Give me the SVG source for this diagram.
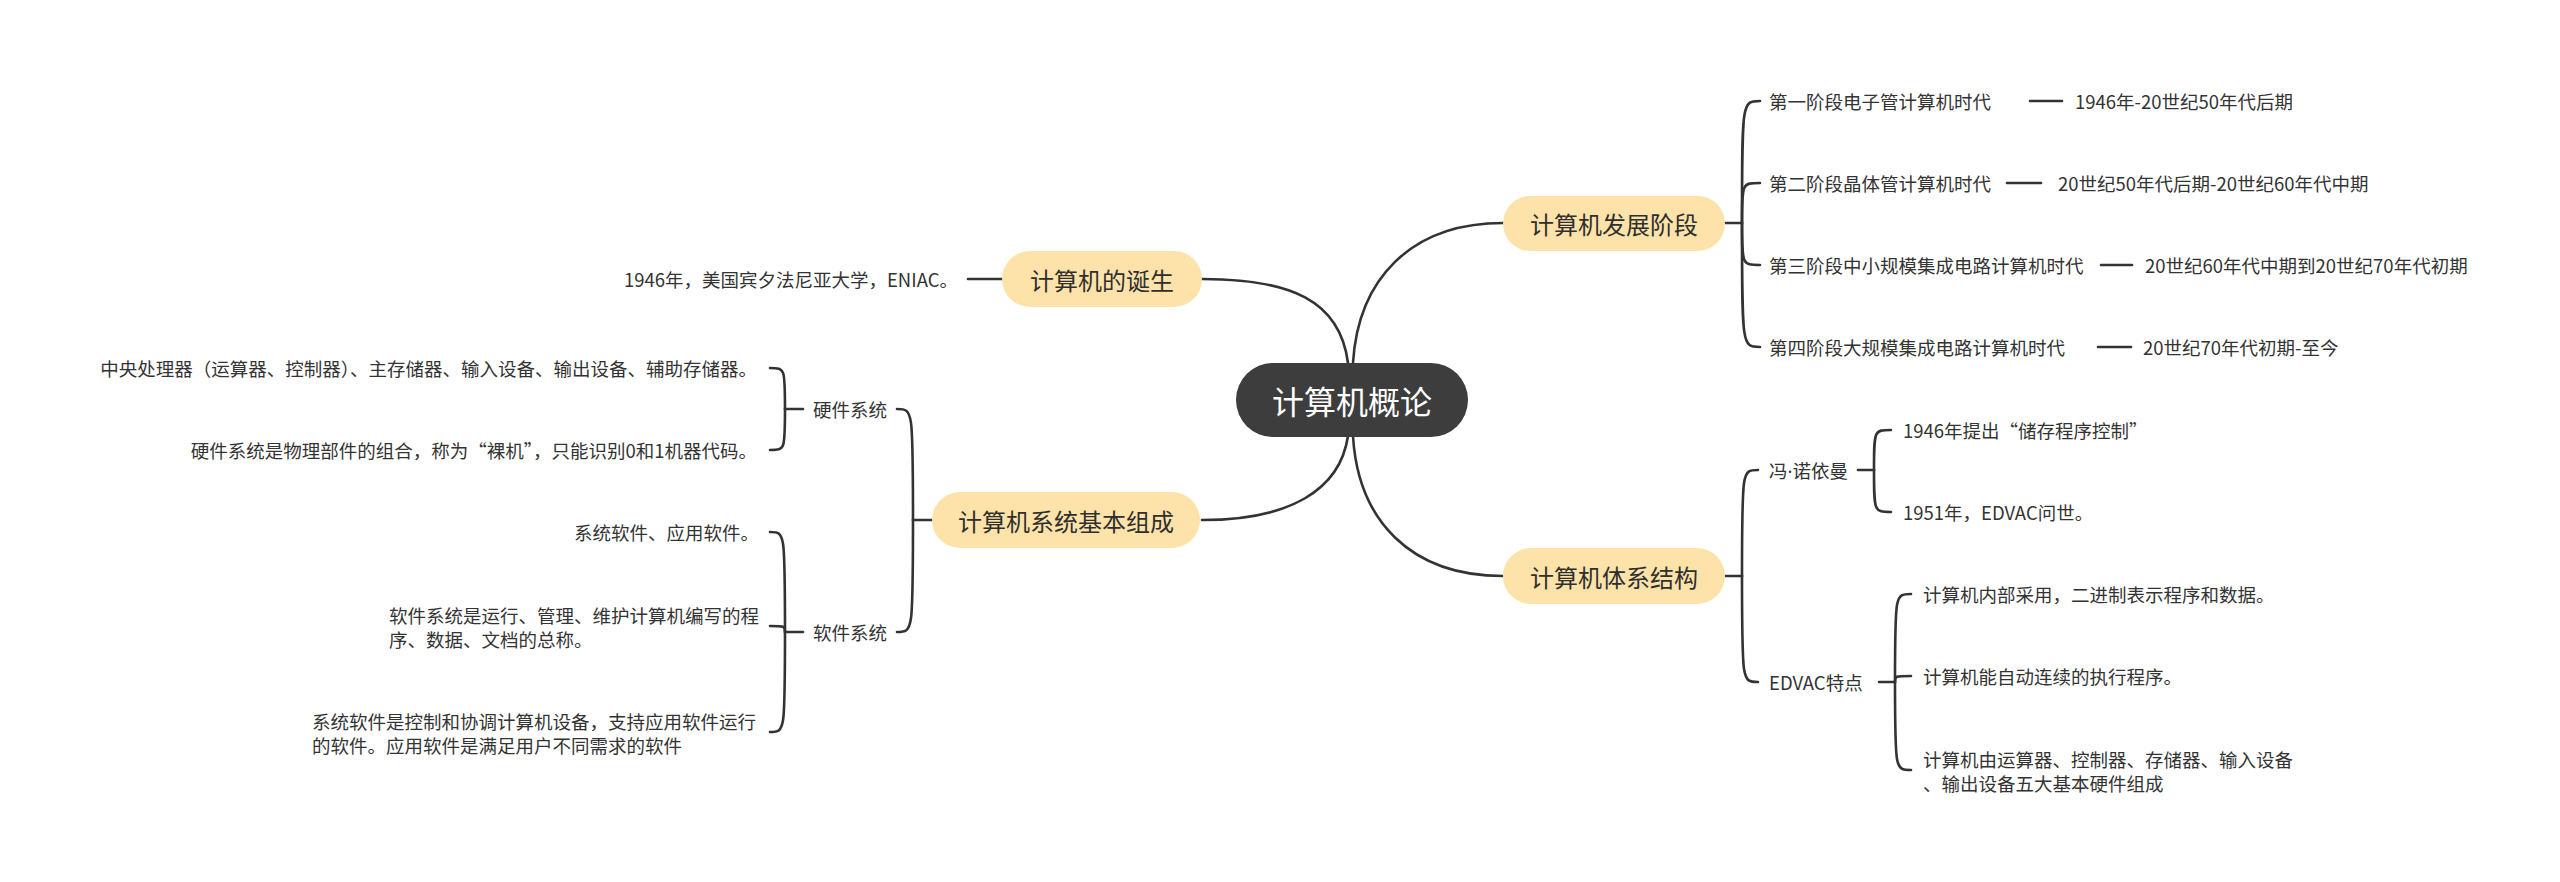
<svg xmlns="http://www.w3.org/2000/svg" width="2560" height="882" viewBox="0 0 2560 882">
<style>
text{font-family:"Noto Sans CJK SC","Noto Sans",sans-serif;dominant-baseline:central;fill:#333333}
.leaf{font-size:18.5px}
.main{font-size:24px;text-anchor:middle;fill:#2f2f2f}
.root{font-size:32px;text-anchor:middle;fill:#ffffff}
.mbox{fill:#fde3a9}
.rbox{fill:#3d3d3d}
.end{text-anchor:end}
.lat{font-family:"Noto Sans","DejaVu Sans",sans-serif}
#connectors path{fill:none;stroke:#333333;stroke-width:2.6;stroke-linecap:round}
</style>
<rect width="2560" height="882" fill="#ffffff"/>
<g id="connectors">
<path d="M1353,363 C1358,280 1410,223 1503,223"/>
<path d="M1348,363 C1340,300 1290,279 1202,279"/>
<path d="M1348,436 C1340,490 1290,520 1202,520"/>
<path d="M1353,436 C1358,520 1410,576 1503,576"/>
<path d="M1725,223 L1742,223"/>
<path d="M1742,223 C1742,101 1742,101 1760,101"/>
<path d="M1742,223 C1742,183 1742,183 1760,183"/>
<path d="M1742,223 C1742,265 1742,265 1760,265"/>
<path d="M1742,223 C1742,347 1742,347 1760,347"/>
<path d="M2030,101 L2062,101"/>
<path d="M2007,183 L2041,183"/>
<path d="M2101,265 L2132,265"/>
<path d="M2098,347 L2131,347"/>
<path d="M1725,576 L1742,576"/>
<path d="M1742,576 C1742,470 1742,470 1758,470"/>
<path d="M1742,576 C1742,682 1742,682 1758,682"/>
<path d="M1858,470 L1874,470"/>
<path d="M1874,470 C1874,430 1874,430 1891,430"/>
<path d="M1874,470 C1874,512 1874,512 1891,512"/>
<path d="M1879,682 L1895,682"/>
<path d="M1895,682 C1895,594 1895,594 1911,594"/>
<path d="M1895,682 C1895,676 1895,676 1911,676"/>
<path d="M1895,682 C1895,770 1895,770 1911,770"/>
<path d="M1002,279 L968,279"/>
<path d="M932,520 L913,520"/>
<path d="M913,520 C913,409 913,409 897,409"/>
<path d="M913,520 C913,632 913,632 897,632"/>
<path d="M803,409 L785,409"/>
<path d="M785,409 C785,368 785,368 770,368"/>
<path d="M785,409 C785,450 785,450 770,450"/>
<path d="M803,632 L785,632"/>
<path d="M785,632 C785,532 785,532 770,532"/>
<path d="M785,632 C785,626 785,626 770,626"/>
<path d="M785,632 C785,732 785,732 770,732"/>
</g>
<g id="root">
<rect class="rbox" x="1236" y="363" width="232" height="74" rx="37"/>
<text class="root" x="1352" y="400">计算机概论</text>
</g>
<g id="n-fazhan">
<rect class="mbox" x="1503" y="196" width="222" height="55" rx="27.5"/>
<text class="main" x="1614" y="223">计算机发展阶段</text>
</g>
<g id="n-dansheng">
<rect class="mbox" x="1002" y="251" width="200" height="56" rx="28"/>
<text class="main" x="1102" y="279">计算机的诞生</text>
</g>
<g id="n-zucheng">
<rect class="mbox" x="932" y="492" width="268" height="56" rx="28"/>
<text class="main" x="1066" y="520">计算机系统基本组成</text>
</g>
<g id="n-tixi">
<rect class="mbox" x="1503" y="548" width="222" height="56" rx="28"/>
<text class="main" x="1614" y="576">计算机体系结构</text>
</g>
<g id="s1"><text class="leaf" x="1769" y="101">第一阶段电子管计算机时代</text></g>
<g id="s1t"><text class="leaf" x="2075" y="101">1946年-20世纪50年代后期</text></g>
<g id="s2"><text class="leaf" x="1769" y="183">第二阶段晶体管计算机时代</text></g>
<g id="s2t"><text class="leaf" x="2058" y="183">20世纪50年代后期-20世纪60年代中期</text></g>
<g id="s3"><text class="leaf" x="1769" y="265">第三阶段中小规模集成电路计算机时代</text></g>
<g id="s3t"><text class="leaf" x="2145" y="265">20世纪60年代中期到20世纪70年代初期</text></g>
<g id="s4"><text class="leaf" x="1769" y="347">第四阶段大规模集成电路计算机时代</text></g>
<g id="s4t"><text class="leaf" x="2143" y="347">20世纪70年代初期-至今</text></g>
<g id="vn"><text class="leaf" x="1769" y="470">冯<tspan class="lat">·</tspan>诺依曼</text></g>
<g id="vn1"><text class="leaf" x="1903" y="430">1946年提出“储存程序控制”</text></g>
<g id="vn2"><text class="leaf" x="1903" y="512">1951年，EDVAC问世。</text></g>
<g id="ed"><text class="leaf" x="1769" y="682">EDVAC特点</text></g>
<g id="ed1"><text class="leaf" x="1923" y="594">计算机内部采用，二进制表示程序和数据。</text></g>
<g id="ed2"><text class="leaf" x="1923" y="676">计算机能自动连续的执行程序。</text></g>
<g id="ed3"><text class="leaf" x="1923" y="759">计算机由运算器、控制器、存储器、输入设备</text><text class="leaf" x="1923" y="783">、输出设备五大基本硬件组成</text></g>
<g id="eniac"><text class="leaf end" x="958" y="279">1946年，美国宾夕法尼亚大学，ENIAC。</text></g>
<g id="hw"><text class="leaf" x="813" y="409">硬件系统</text></g>
<g id="hw1"><text class="leaf end" x="757" y="368">中央处理器（运算器、控制器）、主存储器、输入设备、输出设备、辅助存储器。</text></g>
<g id="hw2"><text class="leaf end" x="757" y="450">硬件系统是物理部件的组合，称为“裸机”，只能识别0和1机器代码。</text></g>
<g id="sw"><text class="leaf" x="813" y="632">软件系统</text></g>
<g id="sw1"><text class="leaf end" x="759" y="532">系统软件、应用软件。</text></g>
<g id="sw2"><text class="leaf" x="389" y="615">软件系统是运行、管理、维护计算机编写的程</text><text class="leaf" x="389" y="639">序、数据、文档的总称。</text></g>
<g id="sw3"><text class="leaf" x="312" y="721">系统软件是控制和协调计算机设备，支持应用软件运行</text><text class="leaf" x="312" y="745">的软件。应用软件是满足用户不同需求的软件</text></g>
</svg>
